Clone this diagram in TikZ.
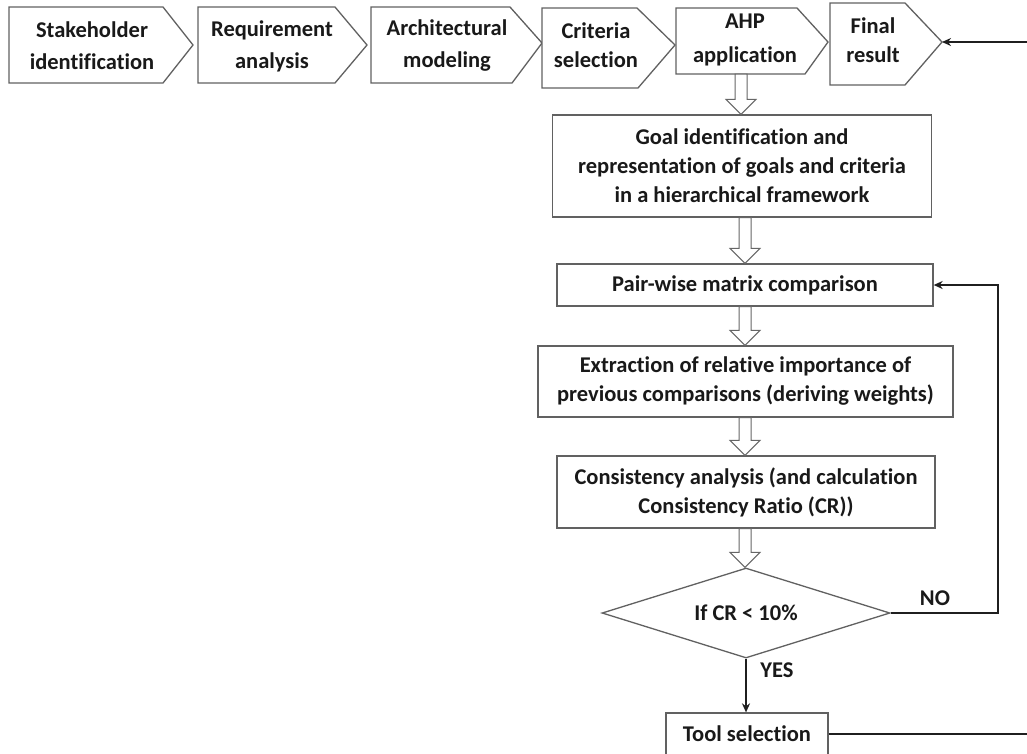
\documentclass[tikz,border=0pt]{standalone}
\usepackage{fontspec}
\setmainfont{Carlito}[Ligatures=NoCommon]
\usetikzlibrary{calc,shapes.geometric,arrows.meta}

% pentagon stage: left, top, bottom, top-right, bottom-right, tip x, tip y
\newcommand\stageshape[7]{%
  \draw[boxline] (#1,#2) -- (#4,#2) -- (#6,#7) -- (#5,#3) -- (#1,#3) -- cycle;}

% hollow block arrow from the bottom of one node to the top of the next
\newcommand\blockarrow[2]{%
  \draw[hollow]
    ($(col |- #1.south)+(-6,0)$) -- ($(col |- #2.north)+(-6,-15)$)
    -- ($(col |- #2.north)+(-15,-15)$) -- (col |- #2.north)
    -- ($(col |- #2.north)+(15,-15)$) -- ($(col |- #2.north)+(6,-15)$)
    -- ($(col |- #1.south)+(6,0)$) -- cycle;}

\begin{document}
\begin{tikzpicture}[x=1pt,y=-1pt,
  font=\fontsize{22.5}{29}\selectfont\bfseries,
  every node/.style={text=black!90},
  boxline/.style={draw=black!62, line width=1.3pt, fill=white},
  stagetext/.style={align=center, inner sep=0pt},
  procbox/.style={boxline, align=center, inner sep=0pt},
  hollow/.style={draw=black!60, line width=1pt, fill=white},
  flow/.style={draw=black!88, line width=1.8pt, -{Stealth[length=9pt,width=8pt]}},
]
\useasboundingbox (0,0) rectangle (1027,753);
\clip (0,0) rectangle (1027,753);
\fill[white] (0,0) rectangle (1027,753);

% top row of stages
\stageshape{9}{7}{83}{163}{163}{193}{45}
\stageshape{198}{7}{83}{335}{335}{367}{45}
\stageshape{371}{7}{83}{510}{512}{542}{43}
\stageshape{542}{8}{88}{637}{638}{675}{45}
\stageshape{676}{8}{74}{797}{805}{828}{42}
\stageshape{830}{3}{85}{905}{905}{942}{42}

\node[stagetext, font=\fontsize{22.5}{32}\selectfont\bfseries] (s1) at (92,46) {Stakeholder\\identification};
\node[stagetext, font=\fontsize{22.5}{32}\selectfont\bfseries] (s2) at (272,46) {Requirement\\analysis};
\node[stagetext, font=\fontsize{22.5}{32}\selectfont\bfseries] (s3) at (447,46) {Architectural\\modeling};
\node[stagetext, font=\fontsize{22.5}{29}\selectfont\bfseries] (s4) at (596,45) {Criteria\\selection};
\node[stagetext, font=\fontsize{22.5}{34}\selectfont\bfseries] (s5) at (745,40) {AHP\\application};
\node[stagetext, font=\fontsize{22.5}{29}\selectfont\bfseries] (s6) at (873,40) {Final\\result};
\coordinate (ahpbottom) at (741,74);
\coordinate (finaltip) at (942,42);

% AHP process column
\coordinate (col) at (745,0);
\node[procbox, minimum width=379pt, minimum height=102pt] (goal) at (742,166)
  {Goal identification and\\representation of goals and criteria\\in a hierarchical framework};
\node[procbox, minimum width=376pt, minimum height=42pt] (pair) at (745,285)
  {Pair-wise matrix comparison};
\node[procbox, minimum width=415pt, minimum height=71pt] (extr) at (745.5,381.5)
  {Extraction of relative importance of\\previous comparisons (deriving weights)};
\node[procbox, minimum width=378pt, minimum height=72pt] (cons) at (746,492)
  {Consistency analysis (and calculation\\Consistency Ratio (CR))};
\node[boxline, diamond, aspect=3.2, minimum width=288pt, minimum height=90pt, inner sep=0pt]
  (dia) at (746,613) {If CR < 10\%};
\node[procbox, minimum width=162pt, minimum height=42pt] (tool) at (747,734)
  {Tool selection};

% hollow arrows between steps
\draw[hollow]
  ($(ahpbottom)+(-6,0)$) -- ($(ahpbottom |- goal.north)+(-6,-15)$)
  -- ($(ahpbottom |- goal.north)+(-15,-15)$) -- (ahpbottom |- goal.north)
  -- ($(ahpbottom |- goal.north)+(15,-15)$) -- ($(ahpbottom |- goal.north)+(6,-15)$)
  -- ($(ahpbottom)+(6,0)$) -- cycle;
\blockarrow{goal}{pair}
\blockarrow{pair}{extr}
\blockarrow{extr}{cons}
\blockarrow{cons}{dia}

% decision branches
\coordinate (nocorner) at (998,0);
\draw[flow] (dia.east) -- (dia.east -| nocorner) -- (nocorner |- pair.east) -- (pair.east);
\node (nolabel) at (935,598) {NO};
\draw[flow] (dia.south) -- (dia.south |- tool.north);
\node (yeslabel) at (777,670) {YES};

% return to the final result
\coordinate (rightedge) at (1040,0);
\draw[flow] (tool.east) -- (tool.east -| rightedge) -- (rightedge |- finaltip) -- (finaltip);
\end{tikzpicture}
\end{document}
